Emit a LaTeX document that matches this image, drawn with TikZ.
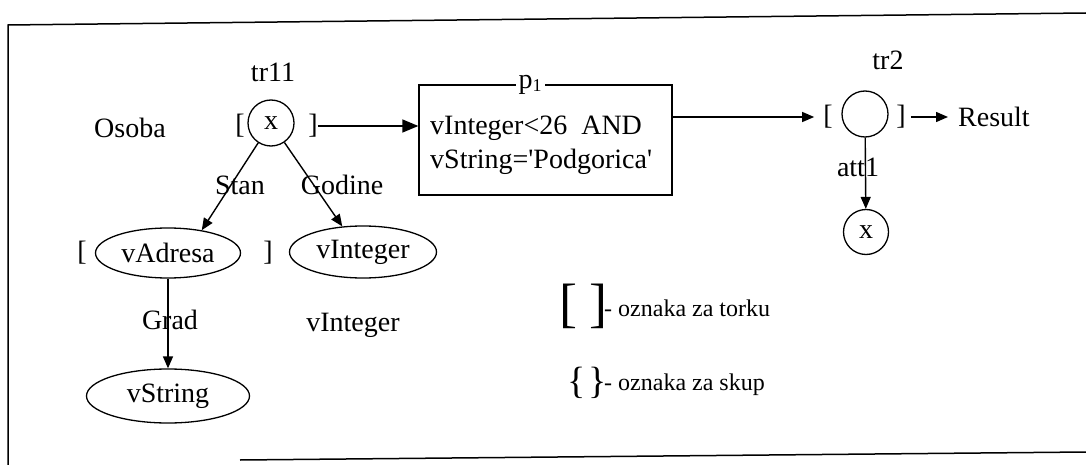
\documentclass[tikz,border=0pt]{standalone}
\usepackage{fontspec}
\setmainfont{Liberation Serif}[Ligatures=TeXOff]
\usetikzlibrary{arrows.meta,shapes.geometric}
\begin{document}
\begin{tikzpicture}[x=1pt,y=-1pt,
  txt/.style={inner sep=0pt, font=\fontsize{28}{32}\selectfont},
  lgd/.style={inner sep=0pt, font=\fontsize{24}{30}\selectfont},
  big/.style={inner sep=0pt, font=\fontsize{54}{56}\selectfont},
  brace/.style={inner sep=0pt, font=\fontsize{38}{40}\selectfont},
  place/.style={circle, draw, line width=1.3pt, minimum size=46pt, inner sep=0pt, font=\fontsize{28}{32}\selectfont},
  oval/.style={ellipse, draw, line width=1.3pt, inner sep=0pt, font=\fontsize{28}{32}\selectfont},
  arr/.style={-{Triangle[length=12pt,width=10pt]}, line width=1.4pt},
  bigarr/.style={-{Triangle[length=16pt,width=13pt]}, line width=1.4pt},
]
\useasboundingbox (0,0) rectangle (1086,465);
% frame
\draw[line width=1.5pt] (1086,13) -- (8,25) -- (8,465);
\draw[line width=1.5pt] (240,460) -- (1086,452);

% tr11
\node[txt] (tr11lbl) at (273,72) {tr11};
\node[place] (tr11) at (271,123) {x};
\node[txt] (lb1) at (240,126) {[};
\node[txt] (rb1) at (313,126) {]};
\node[txt] (osoba) at (130,128) {Osoba};

% predicate box
\node[draw, line width=1.3pt, minimum width=253pt, minimum height=110pt, inner sep=0pt] (box) at (545.5,140) {};
\node[txt, fill=white, inner xsep=3pt] (p1) at (530,85) {p\raisebox{-0.2ex}{\fontsize{18}{18}\selectfont 1}};
\node[txt, anchor=west] (cond1) at (430,128) {vInteger<26\ \ AND};
\node[txt, anchor=west] (cond2) at (430,162) {vString='Podgorica'};
\draw[bigarr] (rb1.east) -- (rb1.east -| box.west);

% tr2
\node[txt] (tr2lbl) at (888,60) {tr2};
\node[place] (tr2) at (865,114) {};
\node[txt] (lb2) at (828,117) {[};
\node[txt] (rb2) at (901,117) {]};
\node[txt, anchor=west] (res) at (958,117) {Result};
\draw[arr, shorten >=9pt] (box.east |- lb2) -- (lb2.west);
\draw[arr, shorten <=5pt, shorten >=10pt] (rb2.east) -- (res.west);
\node[place, minimum size=45pt] (x2) at (866,232) {x};
\draw[arr] (tr2) -- (x2);
\node[txt] (att1) at (858,167) {att1};

% lower left
\node[oval, minimum width=145pt, minimum height=50pt] (adr) at (168,253) {vAdresa};
\node[txt] (lb3) at (82,253) {[};
\node[txt] (rb3) at (268,253) {]};
\node[oval, minimum width=147pt, minimum height=52pt] (vint) at (363,252) {vInteger};
\node[oval, minimum width=163pt, minimum height=54pt] (vstr) at (168,396) {vString};
\draw[arr] (tr11) -- (adr.34);
\draw[arr] (tr11) -- (vint.129);
\draw[arr] (adr) -- (vstr);
\node[txt] (stan) at (240,185) {Stan};
\node[txt] (godine) at (342,185) {Godine};
\node[txt] (grad) at (170,320) {Grad};
\node[txt] (vint2) at (353,325) {vInteger};

% legend
\node[big] (lg1a) at (568,306) {[};
\node[big] (lg1b) at (598,306) {]};
\node[lgd, anchor=west] (lg1t) at (604,308) {- oznaka za torku};
\node[brace] (lg2a) at (577,383) {\{};
\node[brace] (lg2b) at (598,383) {\}};
\node[lgd, anchor=west] (lg2t) at (604,385) {- oznaka za skup};
\end{tikzpicture}
\end{document}
